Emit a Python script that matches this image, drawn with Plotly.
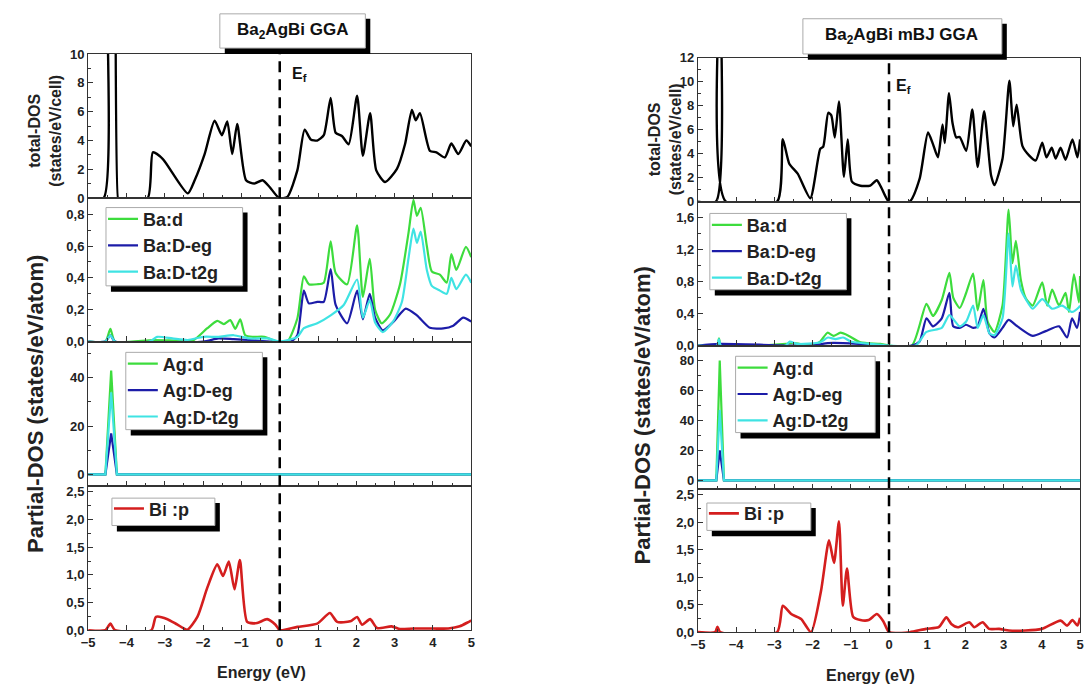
import plotly.graph_objects as go

# ---------------- data ----------------
# Left: Ba2AgBi GGA
E_tot_L = [-5.0, -4.6, -4.55, -4.5, -4.4, -4.3, -4.22, -4.2, -3.45, -3.31, -3.05, -2.40, -2.22, -1.96, -1.70,
           -1.51, -1.37, -1.24, -1.11, -0.88, -0.66, -0.45, -0.27, -0.01, 0.20, 0.46, 0.65, 0.81, 0.98, 1.15,
           1.33, 1.46, 1.63, 1.80, 2.02, 2.17, 2.36, 2.52, 2.75, 3.06, 3.27, 3.45, 3.55, 3.66, 3.92, 4.09, 4.31,
           4.48, 4.66, 4.87, 5.0]
tot_L = [0, 0, 20, 45, 50, 30, 0, 0, 0, 3.18, 2.72, 0.34, 1.25, 3.06, 5.37, 4.37, 5.33, 3.06, 5.15, 1.25, 1.02,
         1.25, 0.8, 0.0, 0.1, 1.93, 4.76, 4.08, 4.0, 4.37, 6.96, 4.54, 4.3, 3.74, 7.1, 2.95, 5.9, 1.93, 1.13,
         2.04, 3.74, 6.12, 5.4, 5.9, 3.29, 3.18, 2.83, 3.79, 3.06, 4.0, 3.6]

E_bad_L = [-5, -4.55, -4.42, -4.3, -3.3, -2.5, -2.24, -1.89, -1.63, -1.46, -1.29, -1.16, -1.03, -0.9, -0.7, -0.4,
           -0.07, 0.2, 0.46, 0.63, 0.76, 0.98, 1.15, 1.33, 1.46, 1.76, 2.02, 2.17, 2.35, 2.49, 2.66, 2.88, 3.14,
           3.36, 3.49, 3.58, 3.68, 3.84, 3.97, 4.18, 4.36, 4.48, 4.61, 4.86, 5.0]
bad_L = [0, 0, 0.08, 0, 0.01, 0.005, 0.01, 0.084, 0.13, 0.11, 0.135, 0.08, 0.14, 0.04, 0.03, 0.03, 0.0, 0.0,
         0.145, 0.41, 0.36, 0.36, 0.37, 0.63, 0.43, 0.36, 0.73, 0.28, 0.52, 0.2, 0.115, 0.17, 0.36, 0.68, 0.89,
         0.79, 0.84, 0.6, 0.44, 0.42, 0.37, 0.55, 0.45, 0.595, 0.53]
E_baeg_L = [-5, -4.55, -4.42, -4.3, -2.0, -1.6, -1.2, -0.8, -0.2, 0.29, 0.46, 0.63, 0.76, 0.98, 1.15, 1.33, 1.46,
            1.76, 2.02, 2.17, 2.35, 2.49, 2.69, 2.97, 3.29, 3.58, 3.92, 4.27, 4.53, 4.79, 5.0]
baeg_L = [0, 0, 0.04, 0, 0, 0.02, 0.015, 0.01, 0, 0, 0.04, 0.32, 0.24, 0.25, 0.25, 0.456, 0.23, 0.115, 0.32,
          0.14, 0.3, 0.15, 0.07, 0.125, 0.207, 0.165, 0.087, 0.083, 0.1, 0.15, 0.125]
E_bat2_L = [-5, -4.55, -4.42, -4.3, -3.4, -3.2, -2.8, -2.4, -2.0, -1.6, -1.2, -0.8, -0.3, 0.0, 0.46, 0.63, 0.98,
            1.33, 1.67, 2.02, 2.17, 2.35, 2.49, 2.69, 2.97, 3.19, 3.36, 3.49, 3.58, 3.68, 3.84, 3.97, 4.18, 4.36,
            4.48, 4.61, 4.86, 5.0]
bat2_L = [0, 0, 0.04, 0, 0, 0.03, 0.02, 0.01, 0.03, 0.03, 0.04, 0.02, 0.02, 0, 0.03, 0.084, 0.115, 0.165, 0.23,
          0.39, 0.15, 0.26, 0.12, 0.06, 0.13, 0.25, 0.52, 0.71, 0.62, 0.69, 0.45, 0.35, 0.32, 0.3, 0.4, 0.33,
          0.42, 0.37]

E_ag_L = [-5, -4.55, -4.4, -4.25, 5]
agd_L = [0, 0, 43, 0, 0]
ageg_L = [0, 0, 17, 0, 0]
agt2_L = [0, 0, 34, 0, 0]

E_bi_L = [-5, -4.55, -4.42, -4.3, -3.35, -3.23, -2.93, -2.67, -2.41, -2.15, -1.89, -1.63, -1.48, -1.33, -1.18,
          -1.04, -0.85, -0.59, -0.33, -0.11, 0.0, 0.46, 0.98, 1.31, 1.5, 1.84, 2.02, 2.15, 2.36, 2.54, 2.92,
          3.14, 3.5, 4.0, 4.4, 4.7, 4.96, 5.0]
bi_L = [0, 0, 0.12, 0, 0, 0.24, 0.2, 0.1, 0.01, 0.24, 0.77, 1.19, 0.98, 1.24, 0.74, 1.27, 0.15, 0.13, 0.2, 0.1,
        0.0, 0.06, 0.12, 0.31, 0.15, 0.16, 0.24, 0.1, 0.2, 0.04, 0.07, 0.02, 0.03, 0.03, 0.03, 0.07, 0.16, 0.17]

# Right: Ba2AgBi mBJ GGA
E_tot_R = [-5, -4.53, -4.49, -4.4, -4.32, -4.27, -2.93, -2.78, -2.61, -2.39, -2.06, -1.80, -1.72, -1.59, -1.51,
           -1.42, -1.31, -1.18, -1.08, -0.97, -0.75, -0.49, -0.32, -0.19, 0.0, 0.54, 0.8, 1.02, 1.15, 1.28, 1.40,
           1.46, 1.57, 1.66, 1.76, 1.85, 2.02, 2.18, 2.32, 2.49, 2.67, 2.76, 2.97, 3.15, 3.25, 3.34, 3.49, 3.67,
           3.84, 4.01, 4.12, 4.26, 4.36, 4.49, 4.62, 4.8, 4.93, 5.0]
tot_R = [0, 0, 30, 50, 30, 0, 0, 5.22, 3.17, 2.34, 0.29, 4.4, 4.6, 7.42, 7.2, 5.36, 8.37, 2.07, 5.2, 1.67, 1.33,
         1.35, 1.79, 1.1, 0.0, 0.0, 1.9, 5.77, 4.8, 3.7, 6.45, 4.9, 9.06, 6.6, 5.36, 5.4, 4.25, 7.69, 2.9, 7.55,
         2.2, 1.38, 3.58, 10.1, 6.3, 8.1, 4.66, 3.85, 3.44, 4.93, 3.7, 4.5, 3.6, 4.5, 3.5, 5.2, 3.7, 5.2]

E_bad_R = [-5, -4.5, -4.45, -4.4, -2.7, -2.5, -2.0, -1.8, -1.61, -1.45, -1.27, -1.05, -0.75, -0.23, 0.0, 0.6,
           0.98, 1.15, 1.38, 1.58, 1.68, 1.85, 2.02, 2.2, 2.32, 2.47, 2.58, 2.76, 2.97, 3.13, 3.23, 3.32, 3.45,
           3.58, 3.76, 4.01, 4.14, 4.27, 4.45, 4.62, 4.71, 4.84, 4.97, 5.0]
bad_R = [0, 0, 0.09, 0, 0.02, 0.03, 0.0, 0.05, 0.16, 0.12, 0.16, 0.12, 0.04, 0.02, 0, 0, 0.52, 0.37, 0.57, 0.91,
         0.6, 0.47, 0.66, 0.9, 0.44, 0.82, 0.3, 0.17, 0.5, 1.70, 1.03, 1.31, 0.82, 0.59, 0.5, 0.79, 0.5, 0.70,
         0.5, 0.66, 0.42, 0.89, 0.54, 0.87]
E_baeg_R = [-5, -4.45, -2.0, -1.6, -1.2, -0.8, -0.3, 0.6, 0.8, 0.98, 1.15, 1.38, 1.58, 1.68, 1.85, 2.02, 2.2,
            2.32, 2.47, 2.63, 2.76, 2.97, 3.13, 3.36, 3.76, 4.1, 4.45, 4.66, 4.79, 4.92, 5.0]
baeg_R = [0, 0.02, 0, 0.03, 0.03, 0.02, 0.0, 0, 0.05, 0.34, 0.24, 0.34, 0.66, 0.24, 0.22, 0.26, 0.22, 0.24,
          0.46, 0.15, 0.1, 0.22, 0.32, 0.24, 0.12, 0.18, 0.24, 0.1, 0.34, 0.22, 0.42]
E_bat2_R = [-5, -4.5, -4.45, -4.4, -2.7, -2.6, -2.4, -1.8, -1.6, -1.4, -1.2, -1.0, -0.5, 0, 0.7, 0.98, 1.38,
            1.58, 1.85, 2.02, 2.2, 2.32, 2.47, 2.63, 2.76, 2.97, 3.13, 3.23, 3.32, 3.45, 3.58, 3.76, 4.01, 4.27,
            4.53, 4.79, 4.97, 5.0]
bat2_R = [0, 0, 0.08, 0, 0, 0.05, 0.02, 0.04, 0.1, 0.08, 0.1, 0.05, 0.02, 0, 0, 0.17, 0.22, 0.38, 0.24, 0.3,
          0.5, 0.22, 0.38, 0.15, 0.13, 0.34, 1.40, 0.74, 1.0, 0.70, 0.58, 0.46, 0.58, 0.46, 0.5, 0.42, 0.48, 0.5]

E_ag_R = [-5, -4.52, -4.43, -4.32, 5]
agd_R = [0, 0, 80, 0, 0]
ageg_R = [0, 0, 20, 0, 0]
agt2_R = [0, 0, 47, 0, 0]

E_bi_R = [-5, -4.55, -4.49, -4.42, -2.93, -2.78, -2.56, -2.3, -2.04, -1.78, -1.57, -1.44, -1.31, -1.21, -1.1,
          -0.94, -0.75, -0.53, -0.32, -0.15, 0.0, 0.54, 0.97, 1.3, 1.5, 1.63, 1.8, 2.1, 2.23, 2.45, 2.62, 2.88,
          3.14, 3.57, 4.0, 4.49, 4.66, 4.8, 4.93, 5.0]
bi_R = [0, 0, 0.1, 0, 0, 0.48, 0.33, 0.24, 0.0, 0.75, 1.67, 1.26, 2.02, 0.48, 1.16, 0.28, 0.22, 0.22, 0.33, 0.2,
        0.0, 0.0, 0.06, 0.09, 0.27, 0.15, 0.09, 0.18, 0.09, 0.18, 0.06, 0.06, 0.03, 0.03, 0.06, 0.21, 0.12, 0.22,
        0.12, 0.26]

titles = ["Ba<sub>2</sub>AgBi GGA", "Ba<sub>2</sub>AgBi mBJ GGA"]
x_ticks = [-5, -4, -3, -2, -1, 0, 1, 2, 3, 4, 5]

# ---------------- layout helpers ----------------
W, H = 1091, 693
FONT = "Liberation Sans, Arial, sans-serif"
def fx(p): return p / W
def fy(p): return 1 - p / H

cols = {
    "L": dict(x0=82, x1=469, rows=[48, 195.5, 342, 490, 637]),
    "R": dict(x0=698, x1=1084, rows=[52, 199, 346, 493, 639]),
}
yspec = {
    "L": [([0, 10], [0, 2, 4, 6, 8, 10], 1, None),
          ([0, 0.9], [0, 0.2, 0.4, 0.6, 0.8], 0.1, ".1f"),
          ([-5, 55], [0, 20, 40], 10, None),
          ([0, 2.6], [0, 0.5, 1.0, 1.5, 2.0, 2.5], 0.25, ".1f")],
    "R": [([0, 12], [0, 2, 4, 6, 8, 10, 12], 1, None),
          ([0, 1.8], [0, 0.4, 0.8, 1.2, 1.6], 0.2, ".1f"),
          ([-6, 90], [0, 20, 40, 60, 80], 10, None),
          ([0, 2.6], [0, 0.5, 1.0, 1.5, 2.0, 2.5], 0.25, ".1f")],
}

GREEN, BLUE, CYAN, RED = "#3ddc3d", "#1c1ca8", "#3fe3e3", "#d41e1e"

fig = go.Figure()
layout = dict(width=W, height=H, margin=dict(l=0, r=0, t=0, b=0), autosize=False,
              paper_bgcolor="white", plot_bgcolor="white", separators=",.",
              showlegend=True, shapes=[], annotations=[])

tickfont = dict(family=FONT, size=13, color="#222", weight="bold")
for ci, key in enumerate(["L", "R"]):
    c = cols[key]
    for r in range(4):
        n = ci * 4 + r + 1
        rng, tv, minor_dt, fmt = yspec[key][r]
        xa = dict(domain=[fx(c["x0"]), fx(c["x1"])], range=[-5, 5], anchor=f"y{n}",
                  showline=True, mirror=True, linecolor="#333", linewidth=1.3,
                  ticks="inside", ticklen=5, tickcolor="#333", tickvals=x_ticks,
                  minor=dict(ticks="inside", ticklen=3, dtick=0.5, tickcolor="#333"),
                  showgrid=False, zeroline=False, showticklabels=(r == 3),
                  tickfont=tickfont)
        ya = dict(domain=[fy(c["rows"][r + 1]), fy(c["rows"][r])], range=rng, anchor=f"x{n}",
                  showline=True, mirror=True, linecolor="#333", linewidth=1.3,
                  ticks="inside", ticklen=5, tickcolor="#333", tickvals=tv,
                  minor=dict(ticks="inside", ticklen=3, dtick=minor_dt, tickcolor="#333"),
                  showgrid=False, zeroline=False, tickfont=tickfont)
        if fmt:
            ya["tickformat"] = fmt
        layout["xaxis" if n == 1 else f"xaxis{n}"] = xa
        layout["yaxis" if n == 1 else f"yaxis{n}"] = ya

def add(x, y, n, color, name=None, legend=None, width=2.2, smooth=True):
    line = dict(color=color, width=width)
    if smooth:
        line.update(shape="spline", smoothing=0.6)
    fig.add_trace(go.Scatter(x=x, y=y, mode="lines", line=line,
                             xaxis=f"x{n}" if n > 1 else "x", yaxis=f"y{n}" if n > 1 else "y",
                             name=name, showlegend=name is not None,
                             legend=legend if legend else "legend", hoverinfo="skip"))

# Left column
add(E_tot_L, tot_L, 1, "black", width=2.4)
add(E_bad_L, bad_L, 2, GREEN, "Ba:d", "legend")
add(E_baeg_L, baeg_L, 2, BLUE, "Ba:D-eg", "legend")
add(E_bat2_L, bat2_L, 2, CYAN, "Ba:D-t2g", "legend")
add(E_ag_L, agd_L, 3, GREEN, "Ag:d", "legend2", smooth=False)
add(E_ag_L, ageg_L, 3, BLUE, "Ag:D-eg", "legend2", smooth=False)
add(E_ag_L, agt2_L, 3, CYAN, "Ag:D-t2g", "legend2", smooth=False)
add(E_bi_L, bi_L, 4, RED, "Bi :p", "legend3", width=2.6)
# Right column
add(E_tot_R, tot_R, 5, "black", width=2.4)
add(E_bad_R, bad_R, 6, GREEN, "Ba:d", "legend4")
add(E_baeg_R, baeg_R, 6, BLUE, "Ba:D-eg", "legend4")
add(E_bat2_R, bat2_R, 6, CYAN, "Ba:D-t2g", "legend4")
add(E_ag_R, agd_R, 7, GREEN, "Ag:d", "legend5", smooth=False)
add(E_ag_R, ageg_R, 7, BLUE, "Ag:D-eg", "legend5", smooth=False)
add(E_ag_R, agt2_R, 7, CYAN, "Ag:D-t2g", "legend5", smooth=False)
add(E_bi_R, bi_R, 8, RED, "Bi :p", "legend6", width=2.6)

legfont = dict(family=FONT, size=18, color="#222", weight="bold")
boxes = {
    "legend": (100, 205, 238, 285),
    "legend2": (120, 353, 258, 432),
    "legend3": (106, 502, 210, 530),
    "legend4": (710, 211, 848, 289),
    "legend5": (736, 357, 877, 435),
    "legend6": (707, 507, 812, 535),
}
shapes = []
shapes.append(dict(type="line", xref="x4", yref="paper", x0=0, x1=0, y0=fy(637), y1=fy(48),
                   line=dict(color="black", width=2.5, dash="11px,7px")))
shapes.append(dict(type="line", xref="x8", yref="paper", x0=0, x1=0, y0=fy(639), y1=fy(52),
                   line=dict(color="black", width=2.5, dash="11px,7px")))

def shadow_box(x0, y0, x1, y1, off=5):
    shapes.append(dict(type="rect", xref="paper", yref="paper", x0=fx(x0 + off), x1=fx(x1 + off),
                       y0=fy(y1 + off + 1), y1=fy(y0 + off), fillcolor="black", line=dict(width=0)))
    shapes.append(dict(type="rect", xref="paper", yref="paper", x0=fx(x0), x1=fx(x1),
                       y0=fy(y1), y1=fy(y0), fillcolor="white", line=dict(color="#aaa", width=1)))

for lg, (x0, y0, x1, y1) in boxes.items():
    shadow_box(x0, y0, x1, y1)
    nudge = 8 if lg in ("legend3", "legend6") else 7
    layout[lg] = dict(x=fx(x0 - 3), y=fy(y0 - nudge), xanchor="left", yanchor="top",
                      bgcolor="rgba(0,0,0,0)", borderwidth=0, font=legfont,
                      tracegroupgap=0, itemclick=False, itemdoubleclick=False)

shadow_box(215, 7, 362, 42)
shadow_box(804, 12, 1005, 48)
layout["shapes"] = shapes

ann = []
def label(text, px, py, font, angle=0):
    ann.append(dict(text=text, x=fx(px), y=fy(py), xref="paper", yref="paper", showarrow=False,
                    font=font, xanchor="center", yanchor="middle", textangle=angle))

ttl_font = dict(family=FONT, size=17, color="#111", weight="bold")
label(titles[0], 288, 25, ttl_font)
label(titles[1], 904, 30, ttl_font)
ef_font = dict(family=FONT, size=16, color="#111", weight="bold")
label("E<sub>f</sub>", 295, 69, ef_font)
label("E<sub>f</sub>", 906, 81, ef_font)
yt_font = dict(family=FONT, size=16, color="#222", weight="bold")
label("total-DOS<br>(states/eV/cell)", 39, 127, yt_font, -90)
label("total-DOS<br>(states/eV/cell)", 665, 135, yt_font, -90)
pd_font = dict(family=FONT, size=22, color="#222", weight="bold")
label("Partial-DOS (states/eV/atom)", 28, 406, pd_font, -90)
label("Partial-DOS (states/eV/atom)", 642, 418, pd_font, -90)
en_font = dict(family=FONT, size=16, color="#222", weight="bold")
label("Energy (eV)", 257, 680, en_font)
label("Energy (eV)", 872, 683, en_font)
layout["annotations"] = ann

fig.update_layout(**layout)
fig.write_html("out.html", config={"displayModeBar": False, "responsive": False},
               post_script="document.body.style.margin='0px';document.body.style.padding='0px';"
                           "document.documentElement.style.overflow='hidden';")
